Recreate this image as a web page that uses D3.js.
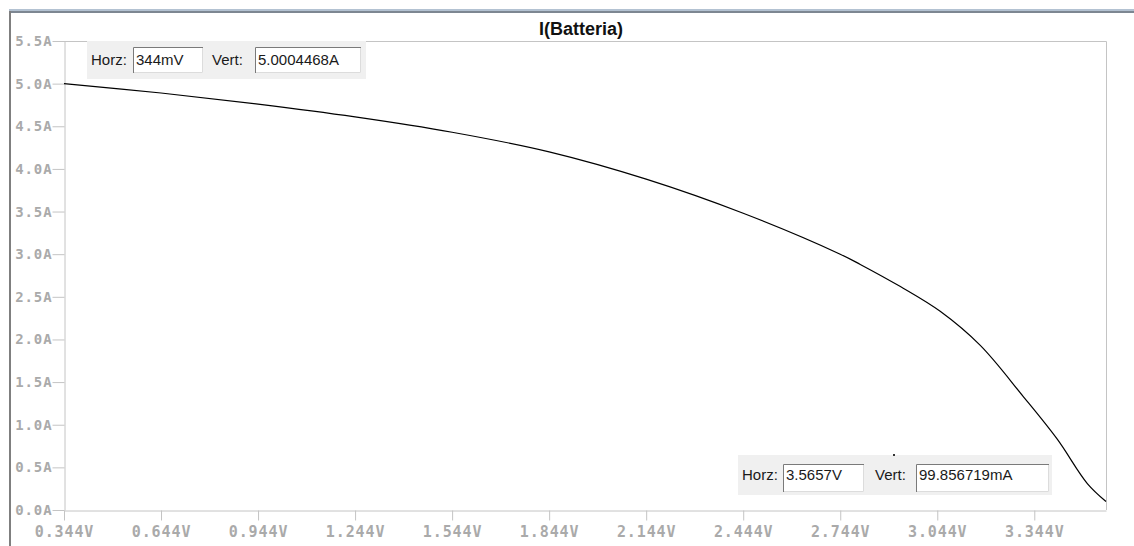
<!DOCTYPE html>
<html lang="en">
<head>
  <meta charset="UTF-8" />
  <title>I(Batteria)</title>
  <script src="https://d3js.org/d3.v7.min.js"></script>
  <style>
    body { margin: 0; background: #ffffff; }
    .axis text { font-family: "DejaVu Sans Mono", monospace; font-size: 14px; font-weight: bold; fill: #aaaaaa; letter-spacing: 0.9px; }
    .axis path, .axis line { stroke: #c4c4c4; }
    .cursor text { font-family: "Liberation Sans", Arial, sans-serif; font-size: 15px; fill: #1a1a1a; }
  </style>
</head>
<body>
  <script>
    // curve: voltage (V) vs battery current (A)
    const volts = [0.344, 0.644, 0.944, 1.244, 1.544, 1.844, 2.144, 2.444, 2.744, 2.806, 2.930, 3.053, 3.177, 3.310, 3.415, 3.508, 3.5657];
    const amps  = [5.0004, 4.89, 4.76, 4.61, 4.43, 4.20, 3.88, 3.48, 3.00, 2.88, 2.62, 2.33, 1.93, 1.33, 0.83, 0.31, 0.0999];
    const xTicks = [0.344, 0.644, 0.944, 1.244, 1.544, 1.844, 2.144, 2.444, 2.744, 3.044, 3.344];
    const yTicks = [0, 0.5, 1.0, 1.5, 2.0, 2.5, 3.0, 3.5, 4.0, 4.5, 5.0, 5.5];
    const title = "I(Batteria)";
    const cursor1 = { horz: "344mV", vert: "5.0004468A" };
    const cursor2 = { horz: "3.5657V", vert: "99.856719mA" };

    const W = 1134, H = 546;
    const plot = { left: 64, top: 41, right: 1106, bottom: 510 };

    const svg = d3.select("body").append("svg")
      .attr("width", W)
      .attr("height", H);

    // window frame bits
    svg.append("rect").attr("x", 9).attr("y", 9).attr("width", W - 9).attr("height", 2).attr("fill", "#b3c2d2");
    svg.append("rect").attr("x", 9).attr("y", 11).attr("width", W - 9).attr("height", 2).attr("fill", "#7d8792");
    svg.append("rect").attr("x", 9).attr("y", 11).attr("width", 2).attr("height", H - 11).attr("fill", "#7f7f7f");

    svg.append("text")
      .attr("x", 581)
      .attr("y", 35)
      .attr("text-anchor", "middle")
      .style("font-family", "'Liberation Sans', Arial, sans-serif")
      .style("font-weight", "bold")
      .style("font-size", "18px")
      .attr("fill", "#111")
      .text(title);

    const xScale = d3.scaleLinear()
      .domain([0.344, 3.5657])
      .range([plot.left, plot.right]);

    const yScale = d3.scaleLinear()
      .domain([0, 5.5])
      .range([plot.bottom, plot.top]);

    // frame: top and right edges
    svg.append("path")
      .attr("d", `M${plot.left},${plot.top + 0.5}H${plot.right + 0.5}V${plot.bottom}`)
      .attr("fill", "none")
      .attr("stroke", "#c4c4c4");

    const xAxis = d3.axisBottom(xScale)
      .tickValues(xTicks)
      .tickSize(10)
      .tickPadding(6)
      .tickSizeOuter(0)
      .tickFormat(d => d3.format(".3f")(d) + "V");
    svg.append("g")
      .attr("class", "axis")
      .attr("transform", "translate(0," + (plot.bottom + 0.5) + ")")
      .call(xAxis)
      .call(g => g.selectAll("text").style("font-size", "15px"));

    const yAxis = d3.axisLeft(yScale)
      .tickValues(yTicks)
      .tickSize(12)
      .tickPadding(0)
      .tickSizeOuter(0)
      .tickFormat(d => d3.format(".1f")(d) + "A");
    svg.append("g")
      .attr("class", "axis")
      .attr("transform", "translate(" + (plot.left + 0.5) + ",0)")
      .call(yAxis);

    const data = volts.map((v, i) => ({ v: v, a: amps[i] }));
    const line = d3.line()
      .x(d => xScale(d.v))
      .y(d => yScale(d.a))
      .curve(d3.curveCatmullRom.alpha(0.5));

    svg.append("path")
      .datum(data)
      .attr("d", line)
      .attr("fill", "none")
      .attr("stroke", "#000")
      .attr("stroke-width", 1.2);

    // cursor readout panels
    function drawCursor(x, y, w, h, vals, boxes) {
      const g = svg.append("g").attr("class", "cursor").attr("transform", `translate(${x},${y})`);
      g.append("rect").attr("width", w).attr("height", h).attr("fill", "#f0f0f0");
      const labels = ["Horz:", "Vert:"];
      const texts = [vals.horz, vals.vert];
      boxes.forEach((b, i) => {
        g.append("text").attr("x", b.lx).attr("y", h / 2 + 5).text(labels[i]);
        g.append("rect").attr("x", b.x).attr("y", b.y).attr("width", b.w).attr("height", b.h).attr("fill", "#fff");
        g.append("path")
          .attr("d", `M${b.x + 0.5},${b.y + b.h}V${b.y + 0.5}H${b.x + b.w}`)
          .attr("stroke", "#7a7a7a").attr("fill", "none");
        g.append("path")
          .attr("d", `M${b.x + 1},${b.y + b.h - 0.5}H${b.x + b.w - 0.5}V${b.y + 1}`)
          .attr("stroke", "#dcdcdc").attr("fill", "none");
        g.append("text").attr("x", b.x + 3).attr("y", h / 2 + 5).text(texts[i]);
      });
    }

    drawCursor(87, 41, 279, 38, cursor1, [
      { lx: 4, x: 46, y: 6, w: 70, h: 26 },
      { lx: 125, x: 168, y: 6, w: 106, h: 26 }
    ]);
    drawCursor(738, 455, 314, 40, cursor2, [
      { lx: 4, x: 45, y: 9, w: 81, h: 28 },
      { lx: 137, x: 178, y: 9, w: 133, h: 28 }
    ]);
    svg.append("rect").attr("x", 893).attr("y", 454).attr("width", 2).attr("height", 2).attr("fill", "#333");
  </script>
</body>
</html>
